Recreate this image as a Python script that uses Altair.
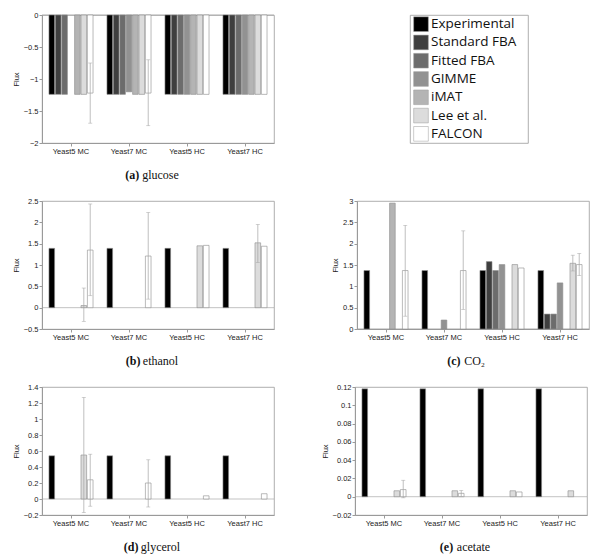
import altair as alt
import pandas as pd

groups = ["Yeast5 MC", "Yeast7 MC", "Yeast5 HC", "Yeast7 HC"]
methods = ["Experimental", "Standard FBA", "Fitted FBA", "GIMME", "iMAT", "Lee et al.", "FALCON"]
colors = ["#000000", "#3f3f3f", "#6c6c6c", "#929292", "#b4b4b4", "#dcdcdc", "#ffffff"]

N = None
# rows = methods, columns = groups
glucose = [
    [-1.24, -1.24, -1.24, -1.24],
    [-1.24, -1.24, -1.24, -1.24],
    [-1.24, -1.24, -1.24, -1.24],
    [N, -1.20, -1.24, -1.24],
    [-1.24, -1.24, -1.24, -1.24],
    [-1.24, -1.24, -1.24, -1.24],
    [-1.22, -1.22, -1.24, -1.24],
]
glucose_err = [("Yeast5 MC", "FALCON", -1.69, -0.75), ("Yeast7 MC", "FALCON", -1.73, -0.70)]

ethanol = [
    [1.39, 1.39, 1.39, 1.39],
    [N, N, N, N],
    [N, N, N, N],
    [N, N, N, N],
    [N, N, N, N],
    [0.05, N, 1.45, 1.52],
    [1.35, 1.21, 1.46, 1.44],
]
ethanol_err = [("Yeast5 MC", "Lee et al.", -0.32, 0.46), ("Yeast5 MC", "FALCON", 0.28, 2.43),
               ("Yeast7 MC", "FALCON", 0.20, 2.23), ("Yeast7 HC", "Lee et al.", 1.06, 1.95)]

co2 = [
    [1.37, 1.37, 1.37, 1.37],
    [N, N, 1.58, 0.35],
    [N, N, 1.37, 0.35],
    [N, 0.21, 1.51, 1.08],
    [2.95, N, N, N],
    [N, N, 1.51, 1.54],
    [1.37, 1.37, 1.43, 1.51],
]
co2_err = [("Yeast5 MC", "FALCON", 0.30, 2.43), ("Yeast7 MC", "FALCON", 0.46, 2.30),
           ("Yeast7 HC", "Lee et al.", 1.36, 1.73), ("Yeast7 HC", "FALCON", 1.25, 1.77)]

glycerol = [
    [0.54, 0.54, 0.54, 0.54],
    [N, N, N, N],
    [N, N, N, N],
    [N, N, N, N],
    [N, N, N, N],
    [0.55, N, N, N],
    [0.24, 0.20, 0.04, 0.066],
]
glycerol_err = [("Yeast5 MC", "Lee et al.", -0.17, 1.27), ("Yeast5 MC", "FALCON", -0.09, 0.56),
                ("Yeast7 MC", "FALCON", -0.10, 0.49)]

acetate = [
    [0.118, 0.118, 0.118, 0.118],
    [N, N, N, N],
    [N, N, N, N],
    [N, N, N, N],
    [N, N, N, N],
    [0.0065, 0.0065, 0.0065, 0.0065],
    [0.0078, 0.0037, 0.0052, N],
]
acetate_err = [("Yeast5 MC", "FALCON", -0.0012, 0.018), ("Yeast7 MC", "FALCON", 0.0003, 0.0068)]

W, H = 232, 128
AX = "#9a9a9a"
ERR = "#a4a4a4"

# approximate Times widths for caption centring
TW = {"a": .444, "c": .444, "e": .444, "g": .5, "h": .5, "l": .278, "n": .5, "o": .5, "r": .333,
      "s": .389, "t": .278, "u": .5, "y": .5, "C": .667, "O": .722, "\u2082": .5}


def panel(vals, errs, domain, ticks, fmt, tag, name):
    rows = []
    for mi, m in enumerate(methods):
        for gi, g in enumerate(groups):
            v = vals[mi][gi]
            if v is not None:
                rows.append({"group": g, "method": m, "value": v})
    df = pd.DataFrame(rows)
    edf = pd.DataFrame(errs, columns=["group", "method", "lo", "hi"])

    x = alt.X("group:N", sort=groups, title=None,
              scale=alt.Scale(domain=groups, paddingInner=0.24, paddingOuter=0.12),
              axis=alt.Axis(labelAngle=0))
    xo = alt.XOffset("method:N", sort=methods,
                     scale=alt.Scale(domain=methods, paddingInner=0.12, paddingOuter=0))
    ysc = alt.Scale(domain=domain, nice=False, zero=False)
    yax = alt.Axis(values=ticks, format=fmt, labelOverlap=False, labelBound=False)

    def Y(field):
        return alt.Y(field, scale=ysc, axis=yax, title="Flux")

    zero = alt.Chart(pd.DataFrame({"z": [0]})).mark_rule(color=AX, strokeWidth=0.6).encode(
        y=Y("z:Q"))
    bars = alt.Chart(df).mark_bar(stroke="#8c8c8c", strokeWidth=0.6).encode(
        x=x, xOffset=xo,
        y=Y("value:Q"),
        y2=alt.datum(0),
        color=alt.Color("method:N", scale=alt.Scale(domain=methods, range=colors), legend=None),
    )
    err = alt.Chart(edf).mark_rule(color=ERR, strokeWidth=0.7).encode(
        x=x, xOffset=xo, y=Y("lo:Q"), y2="hi:Q")
    cap_lo = alt.Chart(edf).mark_tick(color=ERR, thickness=0.7, size=4).encode(
        x=x, xOffset=xo, y=Y("lo:Q"))
    cap_hi = alt.Chart(edf).mark_tick(color=ERR, thickness=0.7, size=4).encode(
        x=x, xOffset=xo, y=Y("hi:Q"))

    fs = 12
    wb = 14.0
    wn = sum(TW.get(c, .5) for c in name) * fs
    total = wb + 3 + wn
    start = W / 2 - 6 - total / 2
    cdf = pd.DataFrame({"t": [0]})
    t1 = alt.Chart(cdf).mark_text(font="Liberation Serif", fontSize=fs, fontWeight="bold",
                                  align="left", baseline="middle", color="#111").encode(
        x=alt.value(start), y=alt.value(H + 32), text=alt.value(tag))
    t2 = alt.Chart(cdf).mark_text(font="Liberation Serif", fontSize=fs, fontWeight="normal",
                                  align="left", baseline="middle", color="#111").encode(
        x=alt.value(start + wb + 3), y=alt.value(H + 32), text=alt.value(name))
    return alt.layer(zero, bars, err, cap_lo, cap_hi, t1, t2).properties(width=W, height=H)


p_glu = panel(glucose, glucose_err, [-2, 0], [-2, -1.5, -1, -0.5, 0], ".1~f", "(a)", "glucose")
p_eth = panel(ethanol, ethanol_err, [-0.5, 2.5], [-0.5, 0, 0.5, 1, 1.5, 2, 2.5], ".1~f", "(b)", "ethanol")
p_co2 = panel(co2, co2_err, [0, 3], [0, 0.5, 1, 1.5, 2, 2.5, 3], ".1~f", "(c)", "CO\u2082")
p_gly = panel(glycerol, glycerol_err, [-0.2, 1.4], [-0.2, 0, 0.2, 0.4, 0.6, 0.8, 1, 1.2, 1.4], ".1~f",
              "(d)", "glycerol")
p_ace = panel(acetate, acetate_err, [-0.02, 0.12], [-0.02, 0, 0.02, 0.04, 0.06, 0.08, 0.1, 0.12], ".2~f",
              "(e)", "acetate")

leg_df = pd.DataFrame({"method": methods})
ly = alt.Y("method:N", sort=methods, axis=None, scale=alt.Scale(domain=methods, paddingInner=0, paddingOuter=0))
leg_sq = alt.Chart(leg_df).mark_square(size=215, stroke="#9a9a9a", strokeWidth=0.5, opacity=1).encode(
    x=alt.value(11), y=ly,
    color=alt.Color("method:N", scale=alt.Scale(domain=methods, range=colors), legend=None))
leg_tx = alt.Chart(leg_df).mark_text(align="left", baseline="middle", font="Open Sans",
                                     fontSize=13.5, color="#111").encode(
    x=alt.value(21), y=ly, text="method:N")
legend = alt.layer(leg_sq, leg_tx).properties(width=118, height=128)

row1 = alt.hconcat(p_glu, legend, spacing=134)
row2 = alt.hconcat(p_eth, p_co2, spacing=56)
row3 = alt.hconcat(p_gly, p_ace, spacing=45)

chart = alt.vconcat(row1, row2, row3, spacing=14).properties(
    padding={"left": 3, "top": 2, "right": 0, "bottom": 0}
).configure_view(stroke=AX, strokeWidth=0.8).configure_axis(
    labelFont="Liberation Sans", labelFontSize=7.5, labelColor="#222",
    titleFont="Liberation Sans", titleFontSize=7.5, titleFontWeight="normal", titleColor="#222",
    domainColor=AX, tickColor=AX, tickSize=3, labelPadding=1, titlePadding=3, grid=False,
)

chart.save("out.html", embed_options={"renderer": "svg", "actions": False})
